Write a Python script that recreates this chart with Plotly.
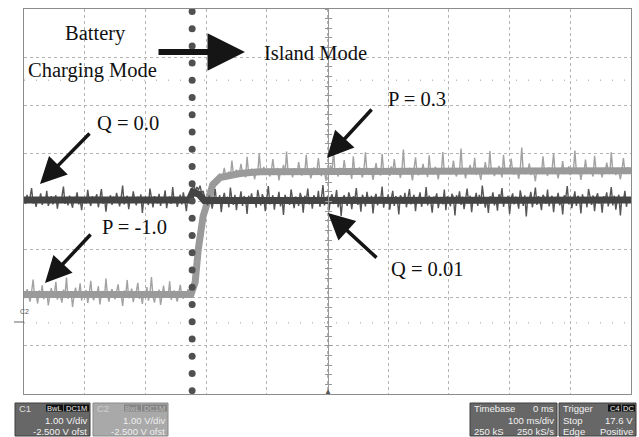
import numpy as np
import plotly.graph_objects as go

# ---------------- data (screen divisions vs time in ms) ----------------
SAMPLE_STEP_MS = 2.5
T_START_MS = -500
SWITCH_MS = -223

Q_VALUES = [
    0.06, -0.05, 0.14, -0.02, 0.09, 0.28, -0.04, 0.03, -0.11, 0.08, 0.01, 0.17, -0.07, 0.05, -0.02, 0.22, -0.09, 0.04, 0.11, -0.06,
    0.02, 0.13, -0.15, 0.07, -0.03, 0.10, 0.31, -0.05, 0.06, -0.08, 0.12, 0.00, -0.13, 0.09, 0.04, 0.19, -0.06, 0.03, -0.18, 0.08,
    0.05, -0.04, 0.24, 0.01, -0.09, 0.11, -0.02, 0.07, 0.15, -0.12, 0.04, 0.26, -0.05, 0.08, -0.21, 0.06, 0.02, 0.13, -0.07, 0.10,
    -0.03, 0.18, 0.05, -0.10, 0.08, 0.33, -0.06, 0.02, 0.12, -0.16, 0.07, -0.01, 0.21, 0.04, -0.08, 0.10, -0.03, 0.15, -0.24, 0.06,
    0.09, 0.01, -0.07, 0.27, 0.03, -0.12, 0.11, 0.05, -0.04, 0.16, -0.09, 0.07, 0.02, 0.23, -0.14, 0.06, 0.10, -0.05, 0.30, -0.02,
    0.08, -0.11, 0.04, 0.14, -0.06, 0.19, 0.02, -0.20, 0.09, 0.05, 0.16, 0.25, 0.36, 0.20, 0.30, 0.24, 0.33, 0.18, 0.22, 0.10,
    0.02, -0.08, 0.12, 0.04, -0.15, 0.09, 0.26, -0.05, 0.07, 0.13, -0.22, 0.05, 0.18, -0.03, 0.10, -0.12, 0.29, 0.04, -0.07, 0.14,
    -0.18, 0.08, 0.03, 0.21, -0.09, 0.11, 0.06, -0.26, 0.12, 0.02, 0.17, -0.05, 0.09, -0.13, 0.24, 0.04, -0.08, 0.15, 0.07, -0.20,
    0.11, 0.32, -0.06, 0.05, 0.13, -0.17, 0.08, 0.01, 0.20, -0.10, 0.06, -0.28, 0.14, 0.03, 0.09, -0.07, 0.25, 0.05, -0.14, 0.10,
    0.04, -0.09, 0.18, 0.07, -0.23, 0.12, 0.02, 0.27, -0.06, 0.09, -0.15, 0.13, 0.05, -0.04, 0.22, -0.11, 0.08, 0.34, -0.08, 0.06,
    0.10, -0.19, 0.07, 0.15, -0.05, 0.03, 0.24, -0.12, 0.09, -0.30, 0.06, 0.13, 0.01, -0.09, 0.19, 0.08, -0.16, 0.11, 0.04, 0.28,
    -0.07, 0.09, -0.21, 0.14, 0.05, -0.10, 0.20, 0.02, -0.04, 0.12, -0.25, 0.07, 0.16, -0.08, 0.10, 0.03, 0.31, -0.13, 0.08, -0.02,
    0.15, -0.17, 0.06, 0.22, -0.09, 0.11, 0.04, -0.27, 0.13, 0.07, -0.05, 0.18, -0.12, 0.09, 0.26, -0.06, 0.02, 0.14, -0.20, 0.08,
    0.05, 0.19, -0.11, 0.07, -0.03, 0.30, -0.08, 0.12, 0.01, -0.23, 0.10, 0.06, 0.17, -0.14, 0.04, 0.09, -0.06, 0.25, -0.18, 0.11,
    0.03, -0.10, 0.16, 0.08, -0.29, 0.13, 0.02, 0.21, -0.07, 0.10, -0.16, 0.05, 0.27, -0.04, 0.12, -0.22, 0.08, 0.04, 0.18, -0.09,
    0.14, -0.05, 0.33, 0.06, -0.13, 0.09, -0.24, 0.11, 0.03, 0.19, -0.08, 0.07, -0.19, 0.15, 0.05, 0.28, -0.11, 0.08, -0.03, 0.12,
    -0.26, 0.06, 0.17, -0.06, 0.10, 0.02, -0.15, 0.23, 0.07, -0.09, 0.13, -0.31, 0.09, 0.04, 0.20, -0.12, 0.06, 0.29, -0.07, 0.11,
    0.02, -0.18, 0.14, 0.08, -0.05, 0.25, -0.10, 0.06, 0.12, -0.22, 0.09, 0.03, 0.18, -0.08, 0.05, -0.27, 0.13, 0.07, 0.32, -0.06,
    0.10, -0.14, 0.04, 0.21, -0.09, 0.12, 0.06, -0.25, 0.15, 0.01, 0.09, -0.12, 0.26, 0.05, -0.07, 0.13, -0.20, 0.08, 0.17, -0.04,
    0.07, -0.23, 0.11, 0.03, 0.19, -0.10, 0.06, 0.30, -0.08, 0.12, -0.17, 0.04, 0.14, -0.29, 0.09, 0.02, 0.22, -0.11, 0.08, 0.05,
]

P_VALUES = [
    -1.90, -2.01, -1.82, -1.96, -2.08, -1.88, -1.62, -1.99, -1.93, -2.12, -1.85, -1.97, -1.74, -2.03, -1.91, -1.86, -2.16, -1.94, -1.80, -1.98,
    -1.92, -1.67, -2.04, -1.89, -1.97, -2.10, -1.83, -1.95, -1.58, -2.02, -1.90, -1.87, -2.19, -1.94, -1.79, -1.99, -1.93, -1.70, -2.06, -1.88,
    -1.96, -1.84, -2.11, -1.91, -1.65, -1.98, -2.05, -1.89, -1.94, -1.76, -2.14, -1.92, -1.86, -2.00, -1.60, -1.95, -2.08, -1.90, -1.82, -1.97,
    -2.03, -1.88, -1.72, -1.99, -1.93, -2.17, -1.85, -1.96, -1.63, -2.01, -1.90, -1.81, -2.09, -1.94, -1.87, -1.69, -2.02, -1.92, -2.13, -1.86,
    -1.95, -1.78, -2.06, -1.91, -1.57, -1.98, -2.10, -1.89, -1.94, -1.83, -2.15, -1.93, -1.75, -2.00, -1.88, -1.96, -1.66, -2.04, -1.92, -1.85,
    -1.97, -2.08, -1.90, -1.73, -1.96, -2.02, -1.88, -1.94, -1.82, -1.99, -1.90, -1.80, -1.62, -1.42, -1.20, -1.02, -0.80, -0.55, -0.32, -0.15,
    0.00, 0.12, 0.22, 0.30, 0.36, 0.40, 0.46, 0.42, 0.50, 0.58, 0.48, 0.54, 0.70, 0.52, 0.56, 0.62, 0.50, 0.85, 0.57, 0.60,
    0.66, 0.53, 0.61, 0.78, 0.57, 0.64, 0.50, 0.93, 0.60, 0.55, 0.68, 0.62, 0.46, 0.65, 0.59, 1.00, 0.63, 0.56, 0.72, 0.60,
    0.58, 0.67, 0.52, 0.64, 0.88, 0.61, 0.57, 0.70, 0.44, 0.63, 0.60, 0.76, 0.55, 1.04, 0.62, 0.58, 0.66, 0.50, 0.69, 0.61,
    0.57, 0.82, 0.63, 0.54, 0.67, 0.60, 0.97, 0.59, 0.65, 0.48, 0.62, 0.71, 0.56, 0.64, 0.90, 0.60, 0.53, 0.68, 0.62, 0.43,
    0.66, 0.59, 0.75, 0.61, 1.07, 0.57, 0.64, 0.52, 0.70, 0.62, 0.58, 0.86, 0.63, 0.55, 0.67, 0.60, 0.47, 0.94, 0.61, 0.65,
    0.58, 0.71, 0.62, 0.50, 0.66, 1.02, 0.60, 0.57, 0.69, 0.63, 0.45, 0.65, 0.80, 0.59, 0.62, 0.54, 0.99, 0.61, 0.67, 0.58,
    0.64, 0.53, 0.73, 0.60, 0.88, 0.62, 0.56, 0.66, 0.49, 0.63, 1.08, 0.59, 0.65, 0.57, 0.70, 0.61, 0.44, 0.68, 0.92, 0.60,
    0.55, 0.67, 0.62, 0.78, 0.58, 0.64, 0.51, 0.96, 0.61, 0.66, 0.57, 0.72, 0.63, 0.46, 0.69, 0.60, 1.03, 0.58, 0.65, 0.62,
    0.70, 0.56, 0.63, 0.85, 0.60, 0.52, 0.67, 0.61, 1.10, 0.59, 0.64, 0.48, 0.66, 0.62, 0.76, 0.57, 0.63, 0.91, 0.55, 0.68,
    0.61, 0.45, 0.65, 0.60, 0.82, 0.63, 0.57, 1.05, 0.62, 0.68, 0.53, 0.64, 0.59, 0.74, 0.61, 0.50, 0.97, 0.63, 0.58, 0.66,
    0.60, 0.89, 0.64, 0.56, 0.70, 0.62, 0.47, 0.66, 1.12, 0.61, 0.58, 0.67, 0.63, 0.79, 0.55, 0.65, 0.60, 0.42, 0.69, 0.62,
    0.66, 0.58, 0.94, 0.61, 0.64, 0.53, 0.71, 0.60, 0.67, 1.00, 0.59, 0.63, 0.48, 0.66, 0.62, 0.84, 0.57, 0.64, 0.60, 0.73,
    0.55, 0.68, 0.61, 1.06, 0.63, 0.57, 0.66, 0.45, 0.64, 0.60, 0.87, 0.62, 0.58, 0.69, 0.61, 0.52, 0.95, 0.64, 0.59, 0.67,
    0.62, 0.50, 0.70, 0.60, 0.81, 0.64, 0.57, 1.02, 0.63, 0.66, 0.55, 0.68, 0.61, 0.46, 0.65, 0.90, 0.62, 0.59, 0.71, 0.64,
]

# smoothed trace cores (time ms, level div)
P_CORE_T = [-500, -225, -218, -213, -205, -198, -189, -177, -144, -111, 0, 500]
P_CORE_V = [-1.93, -1.93, -1.68, -1.0, -0.31, 0.04, 0.35, 0.50, 0.58, 0.62, 0.63, 0.64]
Q_CORE_T = [-500, -228, -222, -212, -203, 500]
Q_CORE_V = [0.03, 0.03, 0.20, 0.15, 0.02, 0.03]

t_ms = [T_START_MS + i * SAMPLE_STEP_MS for i in range(len(Q_VALUES))]

# ---------------- figure ----------------
W, H = 639, 437
L, R, T, B = 24, 8, 9, 43
PW, PH = W - L - R, H - T - B


def px(x):
    return (x - L) / PW


def py(y):
    return (H - B - y) / PH


SERIF = "Liberation Serif"
SANS = "Liberation Sans"

fig = go.Figure()

fig.add_trace(go.Scatter(x=t_ms, y=P_VALUES, mode="lines",
                         line=dict(color="#a2a2a2", width=1.4), hoverinfo="skip"))
fig.add_trace(go.Scatter(x=P_CORE_T, y=P_CORE_V, mode="lines",
                         line=dict(color="#9a9a9a", width=7), hoverinfo="skip"))
fig.add_trace(go.Scatter(x=t_ms, y=Q_VALUES, mode="lines",
                         line=dict(color="#555555", width=1.4), hoverinfo="skip"))
fig.add_trace(go.Scatter(x=Q_CORE_T, y=Q_CORE_V, mode="lines",
                         line=dict(color="#444444", width=7), hoverinfo="skip"))

# mode-switch dotted marker line
dot_y = np.linspace(-3.93, 3.95, 23)
fig.add_trace(go.Scatter(x=[SWITCH_MS] * len(dot_y), y=dot_y, mode="markers",
                         marker=dict(color="#505050", size=7), hoverinfo="skip"))

# dummy traces for centre axes
fig.add_trace(go.Scatter(x=[None], y=[None], yaxis="y2", showlegend=False))
fig.add_trace(go.Scatter(x=[None], y=[None], yaxis="y3", showlegend=False))

grid = dict(showgrid=True, gridcolor="#b4b4b4", griddash="dot", gridwidth=1,
            zeroline=False, showticklabels=False, ticks="",
            showline=True, mirror=True, linecolor="#8c8c8c", linewidth=1)

centre = dict(overlaying="y", anchor="free", position=0.5, range=[-4, 4],
              showgrid=False, zeroline=False, showticklabels=False,
              showline=True, linecolor="#999999", linewidth=1,
              dtick=0.2, tick0=0, ticklen=3, tickcolor="#999999", tickwidth=1)

fig.update_layout(
    width=W, height=H,
    margin=dict(l=L, r=R, t=T, b=B),
    paper_bgcolor="white", plot_bgcolor="white",
    showlegend=False,
    xaxis=dict(range=[-500, 500], dtick=100, tick0=0, **grid),
    yaxis=dict(range=[-4, 4], dtick=1, tick0=0, **grid),
    yaxis2=dict(ticks="outside", **centre),
    yaxis3=dict(ticks="inside", **centre),
)

# sparse dotted reference lines
for yv in (2.52, -2.52):
    fig.add_shape(type="line", xref="x", yref="y", x0=-500, x1=500, y0=yv, y1=yv,
                  line=dict(color="#bdbdbd", width=1.5, dash="1px,11px"), layer="below")

# text labels
labels = [
    ("Battery", 95, 33),
    ("Charging Mode", 92, 70),
    ("Island Mode", 315, 53),
    ("Q = 0.0", 128, 123),
    ("P = -1.0", 134, 227),
    ("P = 0.3", 417, 99),
    ("Q = 0.01", 428, 269),
]
for txt_, x, y in labels:
    fig.add_annotation(text=txt_, x=px(x), y=py(y), xref="paper", yref="paper",
                       showarrow=False, xanchor="center", yanchor="middle",
                       font=dict(family=SERIF, size=20.5, color="#111111"))

# arrows: (tip x, tip y, tail dx, tail dy, width, size)
arrows = [
    (40, 184, 51, -52, 3.5, 1.5),
    (45, 283, 47, -50, 3.5, 1.5),
    (327, 158, 46, -50, 3.5, 1.5),
    (328, 213, 50, 46, 3.5, 1.5),
    (245, 52, -88, 0, 6, 1.25),
]
for x, y, ax, ay, w, s in arrows:
    fig.add_annotation(text="", x=px(x), y=py(y), xref="paper", yref="paper",
                       showarrow=True, ax=ax, ay=ay, arrowhead=2, arrowwidth=w,
                       arrowsize=s, arrowcolor="#151515")

# trigger marker and C2 marker
fig.add_annotation(text="▲", x=0.5, y=py(398), xref="paper", yref="paper",
                   showarrow=False, font=dict(size=8, color="#555555"))
fig.add_annotation(text="C2", x=px(18), y=py(317), xref="paper", yref="paper",
                   showarrow=False, font=dict(family=SANS, size=7, color="#555555"))
fig.add_shape(type="line", xref="paper", yref="paper", x0=px(14), x1=px(24),
              y0=py(322), y1=py(322), line=dict(color="#666666", width=1))


# ---------------- status boxes ----------------
def box(x0, x1, fill, border):
    fig.add_shape(type="rect", xref="paper", yref="paper",
                  x0=px(x0), x1=px(x1), y0=py(403), y1=py(436),
                  fillcolor=fill, line=dict(color=border, width=1))


def txt(s, x, y, anchor, color, size=9.5):
    fig.add_annotation(text=s, x=px(x), y=py(y), xref="paper", yref="paper",
                       showarrow=False, xanchor=anchor, yanchor="middle",
                       font=dict(family=SANS, size=size, color=color))


def badge(s, x0, x1, fill, color):
    fig.add_shape(type="rect", xref="paper", yref="paper",
                  x0=px(x0), x1=px(x1), y0=py(404.5), y1=py(411.5),
                  fillcolor=fill, line=dict(color=fill, width=0))
    txt(s, (x0 + x1) / 2, 408, "center", color, size=7.5)


box(15, 90, "#676767", "#3f3f3f")
txt("C1", 17, 408, "left", "#dddddd")
badge("BwL", 46, 63, "#111111", "#eeeeee")
badge("DC1M", 64, 89, "#111111", "#eeeeee")
txt("1.00 V/div", 89, 421, "right", "#f2f2f2")
txt("-2.500 V ofst", 89, 431.5, "right", "#f2f2f2")

box(93, 168, "#a9a9a9", "#8a8a8a")
txt("C2", 95, 408, "left", "#cfcfcf")
badge("BwL", 124, 141, "#858585", "#bbbbbb")
badge("DC1M", 142, 167, "#858585", "#bbbbbb")
txt("1.00 V/div", 167, 421, "right", "#eeeeee")
txt("-2.500 V ofst", 167, 431.5, "right", "#eeeeee")

box(470, 557, "#676767", "#3f3f3f")
txt("Timebase", 472, 408, "left", "#f2f2f2")
txt("0 ms", 556, 408, "right", "#f2f2f2")
txt("100 ms/div", 556, 421, "right", "#f2f2f2")
txt("250 kS", 472, 431.5, "left", "#f2f2f2")
txt("250 kS/s", 556, 431.5, "right", "#f2f2f2")

box(559, 636, "#676767", "#3f3f3f")
txt("Trigger", 561, 408, "left", "#f2f2f2")
badge("C4", 608, 621, "#111111", "#eeeeee")
badge("DC", 622, 635, "#111111", "#eeeeee")
txt("Stop", 561, 421, "left", "#f2f2f2")
txt("17.6 V", 635, 421, "right", "#f2f2f2")
txt("Edge", 561, 431.5, "left", "#f2f2f2")
txt("Positive", 635, 431.5, "right", "#f2f2f2")

fig.write_html("out.html")
